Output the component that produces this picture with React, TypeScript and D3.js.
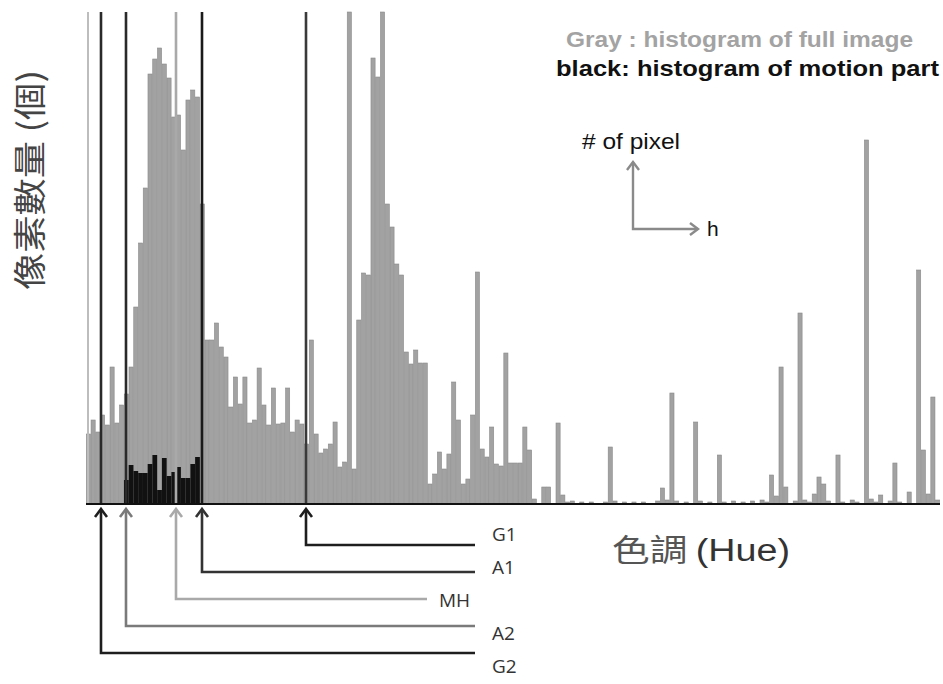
import React from 'react';
import * as d3 from 'd3';

// gray: histogram of full image, 180 hue bins (2 degrees per bin)
const grayCounts = [
  70, 84, 72, 89, 79, 137, 81, 99, 110, 137,
  197, 261, 316, 430, 445, 456, 440, 426, 387, 389,
  354, 404, 414, 407, 300, 164, 164, 181, 157, 147,
  97, 127, 100, 127, 81, 84, 136, 99, 79, 116,
  80, 81, 116, 72, 84, 80, 60, 164, 70, 51,
  55, 60, 82, 37, 42, 600, 35, 184, 231, 229,
  446, 427, 600, 300, 277, 240, 229, 152, 140, 154,
  141, 141, 20, 30, 52, 35, 50, 122, 84, 20,
  25, 89, 232, 55, 47, 77, 40, 38, 151, 41,
  41, 41, 77, 54, 5, 0, 17, 17, 0, 81,
  9, 2, 3, 0, 2, 0, 2, 0, 0, 2,
  57, 3, 0, 2, 0, 2, 0, 2, 0, 0,
  3, 16, 4, 111, 3, 0, 2, 0, 82, 3,
  0, 2, 0, 49, 2, 0, 3, 0, 2, 0,
  3, 0, 4, 2, 29, 8, 137, 17, 0, 3,
  191, 4, 2, 10, 27, 20, 3, 0, 49, 2,
  0, 4, 2, 0, 364, 5, 2, 9, 0, 3,
  41, 2, 0, 12, 0, 234, 54, 10, 107, 4,
];

// black: histogram of motion part, first bin index and counts
const motionStart = 8;
const motionCounts = [24, 39, 33, 31, 31, 40, 49, 14, 46, 28, 32, 37, 26, 26, 40, 47];

// threshold markers (hue bin position)
const markerNames = ['G1', 'A1', 'MH', 'A2', 'G2'];
const markerBins = [46.37, 24.45, 18.97, 8.43, 3.16];
const edgeLineBin = 0.42;

const markerStyle: Record<string, { inner: string; outer: string; end: number; labelX: number }> = {
  G1: { inner: '#3a3a3a', outer: '#1e1e1e', end: 475, labelX: 492 },
  A1: { inner: '#1a1a1a', outer: '#333', end: 475, labelX: 492 },
  MH: { inner: '#a9a9a9', outer: '#a9a9a9', end: 427, labelX: 439 },
  A2: { inner: '#2a2a2a', outer: '#7a7a7a', end: 475, labelX: 492 },
  G2: { inner: '#2a2a2a', outer: '#1e1e1e', end: 475, labelX: 492 },
};

const sans = "'Liberation Sans', Arial, sans-serif";

const App = () => {
  const left = 86, right = 940, top = 12, base = 504;
  const x = d3.scaleLinear().domain([0, 180]).range([left, right]);
  const y = d3.scaleLinear().domain([0, 492]).range([base, top]).clamp(true);
  const bw = x(1) - x(0);

  const rowY = (i: number) => 545 + i * 27;
  const labelY = (i: number) => 534 + i * 33;

  return (
    <svg width={943} height={684} style={{ position: 'absolute', left: 0, top: 0, background: '#fff' }}>
      {/* gray histogram */}
      {grayCounts.map((c, i) => c > 0 && (
        <rect key={'g' + i} x={x(i) + 0.3} y={y(c)} width={bw - 0.6} height={base - y(c)}
          fill="#a2a2a2" stroke="#8a8a8a" strokeWidth={0.6} />
      ))}
      {/* motion histogram */}
      {motionCounts.map((c, i) => (
        <rect key={'m' + i} x={x(motionStart + i)} y={y(c)} width={bw} height={base - y(c)} fill="#111" />
      ))}
      {/* light edge line */}
      <line x1={x(edgeLineBin)} x2={x(edgeLineBin)} y1={top} y2={base} stroke="#bdbdbd" strokeWidth={2} />
      {/* marker lines inside plot */}
      {markerNames.map((n, i) => (
        <line key={'v' + n} x1={x(markerBins[i])} x2={x(markerBins[i])} y1={top} y2={base}
          stroke={markerStyle[n].inner} strokeWidth={2.6} />
      ))}
      {/* baseline */}
      <line x1={left} x2={right} y1={base} y2={base} stroke="#111" strokeWidth={2.2} />

      {/* arrows and leader lines */}
      {markerNames.map((n, i) => {
        const mx = x(markerBins[i]);
        const st = markerStyle[n];
        return (
          <g key={'a' + n} fill="none" stroke={st.outer} strokeWidth={2.6}>
            <polyline points={`${mx - 6},${base + 13} ${mx},${base + 5} ${mx + 6},${base + 13}`} />
            <polyline points={`${mx},${base + 6} ${mx},${rowY(i)} ${st.end},${rowY(i)}`} />
            <text x={st.labelX} y={labelY(i)} dy="0.35em" fill="#333" stroke="none"
              fontFamily="'Open Sans', 'Noto Sans', sans-serif" fontSize={19}>{n}</text>
          </g>
        );
      })}

      {/* axis titles */}
      <text transform="translate(30,180) rotate(-90)" textAnchor="middle" dy="0.35em"
        fontFamily="'Noto Sans CJK TC', sans-serif" fontSize={33} fill="#444"
        textLength={220} lengthAdjust="spacingAndGlyphs">像素數量 (個)</text>
      <text x={612} y={550} dy="0.35em" fontFamily="'Noto Sans CJK TC', sans-serif" fontSize={31} fill="#555"
        textLength={178} lengthAdjust="spacingAndGlyphs">
        色調 <tspan fontFamily={sans} fill="#333">(Hue)</tspan>
      </text>

      {/* legend */}
      <text x={566} y={39} dy="0.35em" fontFamily={sans} fontWeight="bold"
        fontSize={22} fill="#a3a3a3" textLength={347} lengthAdjust="spacingAndGlyphs">Gray : histogram of full image</text>
      <text x={556} y={68} dy="0.35em" fontFamily={sans} fontWeight="bold"
        fontSize={22} fill="#111" textLength={383} lengthAdjust="spacingAndGlyphs">black: histogram of motion part</text>

      {/* direction key */}
      <text x={582} y={141} dy="0.35em" fontFamily={sans} fontSize={22} fill="#111"
        textLength={98} lengthAdjust="spacingAndGlyphs"># of pixel</text>
      <g fill="none" stroke="#8a8a8a" strokeWidth={2.4}>
        <polyline points="633,162 633,229 698,229" />
        <polyline points="627,170 633,162 639,170" />
        <polyline points="690,223 698,229 690,235" />
      </g>
      <text x={707} y={229} dy="0.35em" fontFamily={sans} fontSize={21} fill="#111">h</text>
    </svg>
  );
};

export default App;
